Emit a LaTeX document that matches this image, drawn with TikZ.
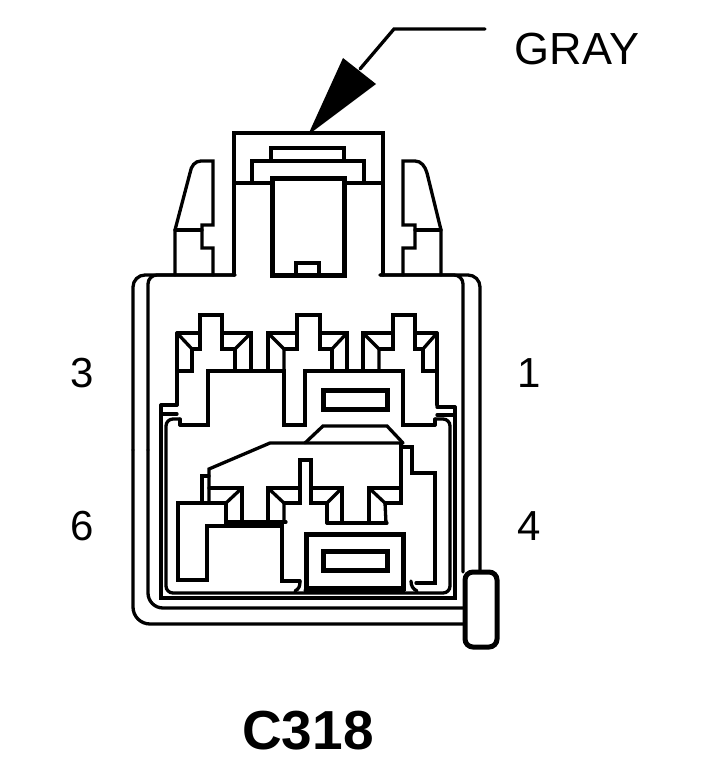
\documentclass[tikz,border=0pt]{standalone}
\usepackage{fontspec}
\setmainfont{Liberation Sans}

\begin{document}
\begin{tikzpicture}[x=1pt,y=-1pt,line width=3.3pt,line cap=round,
    heavy/.style={line width=5pt},
    pinlabel/.style={inner sep=0pt,font=\fontsize{42}{50}\selectfont}]
    \useasboundingbox (0,0) rectangle (708,759);
    %labels
    \node (gray) at (577,49) [pinlabel,font=\fontsize{45}{54}\selectfont]{GRAY};
    \node (pin3) at (82,373) [pinlabel]{3};
    \node (pin1) at (529,373) [pinlabel]{1};
    \node (pin6) at (82,526) [pinlabel]{6};
    \node (pin4) at (529,526) [pinlabel]{4};
    \node (name) at (308,731) [inner sep=0pt,font=\fontsize{55}{64}\selectfont\bfseries]{C318};

    %pointer
    \coordinate (tail) at (485,29);
    \coordinate (bend) at (394,29);
    \coordinate (neck) at (360,69);
    \coordinate (tip) at (308,135);
    \draw (tail) -- (bend) -- (neck);
    \fill (tip) -- (343,58) -- (376,84) -- cycle;

    %top cap
    \draw (234,275) -- (234,133) -- (383,133) -- (383,275);
    \draw (234,183) -- (271,183);
    \draw (344,183) -- (383,183);
    \draw (271,161) -- (271,148) -- (344,148) -- (344,161);
    \draw (252,183) -- (252,161) -- (364,161) -- (364,183);
    \draw [heavy] (272,275) -- (272,179) -- (344,179) -- (344,275) -- cycle;
    \draw (296,275) -- (296,263) -- (319,263) -- (319,275);

    %latches
    \draw (213,275) -- (213,248) -- (202,248) -- (202,225) -- (213,225) -- (213,161) -- (201,161) .. controls (195,161) and (191,166) .. (190,173) -- (175,230) -- (175,275);
    \draw (175,230) -- (202,230);
    \draw (403,275) -- (403,248) -- (415,248) -- (415,225) -- (403,225) -- (403,161) -- (415,161) .. controls (421,161) and (425,166) .. (427,173) -- (441,230) -- (441,275);
    \draw (415,230) -- (441,230);

    %body outlines
    \draw [rounded corners=17pt] (464,624) -- (133,624) -- (133,450);
    \draw [rounded corners=12pt] (133,450) -- (133,275) -- (235,275);
    \draw [rounded corners=15pt] (464,608) -- (148,608) -- (148,450);
    \draw [rounded corners=9pt] (148,450) -- (148,275) -- (235,275);
    \draw [rounded corners=12pt] (380,275) -- (480,275) -- (480,572);
    \draw [rounded corners=9pt] (380,275) -- (463,275) -- (463,572);
    \draw (161,405) -- (161,598) -- (455,598) -- (455,407);
    \draw (161,405) -- (177,405);
    \draw (161,414) -- (177,414);
    \draw (437,407) -- (455,407);
    \draw (437,415) -- (455,415);
    \draw [rounded corners=7pt] (180,419) -- (166,419) -- (166,593) -- (450,593) -- (450,419) -- (435,419);
    \draw (180,419) -- (180,425);
    \draw (435,419) -- (435,425);
    \draw [heavy,rounded corners=8pt] (465,572) rectangle (497,647);

    %upper block
    \draw (177,333) -- (177,405);
    \draw (437,333) -- (437,405);
    \draw (180,425) -- (208,425) -- (208,371) -- (284,371) -- (284,425) -- (305,425) -- (305,371) -- (403,371) -- (403,425) -- (435,425);
    \draw (177,371) -- (192,371) -- (192,349) -- (200,349) -- (200,315) -- (222,315) -- (222,349) -- (235,349) -- (235,371);
    \draw (177,333) -- (200,333);
    \draw (222,333) -- (251,333) -- (251,371);
    \draw (177,333) -- (192,349);
    \draw (235,349) -- (251,333);
    \draw (268,371) -- (268,333) -- (297,333);
    \draw (268,333) -- (284,349) -- (284,371);
    \draw (284,349) -- (297,349) -- (297,315) -- (320,315) -- (320,349) -- (332,349) -- (332,371);
    \draw (320,333) -- (347,333) -- (347,371);
    \draw (332,349) -- (347,333);
    \draw (363,371) -- (363,333) -- (393,333);
    \draw (363,333) -- (379,349) -- (379,371);
    \draw (379,349) -- (393,349) -- (393,315) -- (415,315) -- (415,349) -- (423,349) -- (423,371) -- (437,371);
    \draw (415,333) -- (437,333);
    \draw (423,349) -- (437,333);
    \draw [heavy] (323,390) rectangle (387,409);

    %lower block
    \draw (209,503) -- (209,469) -- (270,443) -- (403,443);
    \draw (305,443) -- (323,426) -- (387,426) -- (403,443);
    \draw (202,503) -- (202,476) -- (209,476);
    \draw (209,503) -- (178,503) -- (178,580) -- (207,580) -- (207,526) -- (282,526) -- (282,581) -- (300,581);
    \draw (300,581) .. controls (300,586) and (299,589) .. (295,591);
    \draw (209,488) -- (242,488) -- (242,526);
    \draw (209,503) -- (226,503) -- (226,526);
    \draw (226,503) -- (242,488);
    \draw (226,522) -- (286,522);
    \draw (268,522) -- (268,488) -- (300,488);
    \draw (268,488) -- (284,503) -- (284,522);
    \draw (284,503) -- (300,503) -- (300,460) -- (311,460) -- (311,503) -- (327,503) -- (327,523);
    \draw (311,488) -- (342,488) -- (342,523);
    \draw (327,503) -- (342,488);
    \draw (327,523) -- (387,523);
    \draw (369,523) -- (369,488) -- (401,488);
    \draw (369,488) -- (385,503) -- (386,523);
    \draw (385,503) -- (401,503) -- (401,443);
    \draw (401,447) -- (412,447) -- (412,473) -- (435,473) -- (435,583) -- (416,583);
    \draw (411,581) .. controls (411,586) and (413,589) .. (417,591);
    \draw [heavy] (306,534) -- (403,534) -- (403,588) -- (306,588) -- cycle;
    \draw [heavy] (306,590) -- (403,590);
    \draw [heavy] (323,551) rectangle (387,570);
\end{tikzpicture}
\end{document}
